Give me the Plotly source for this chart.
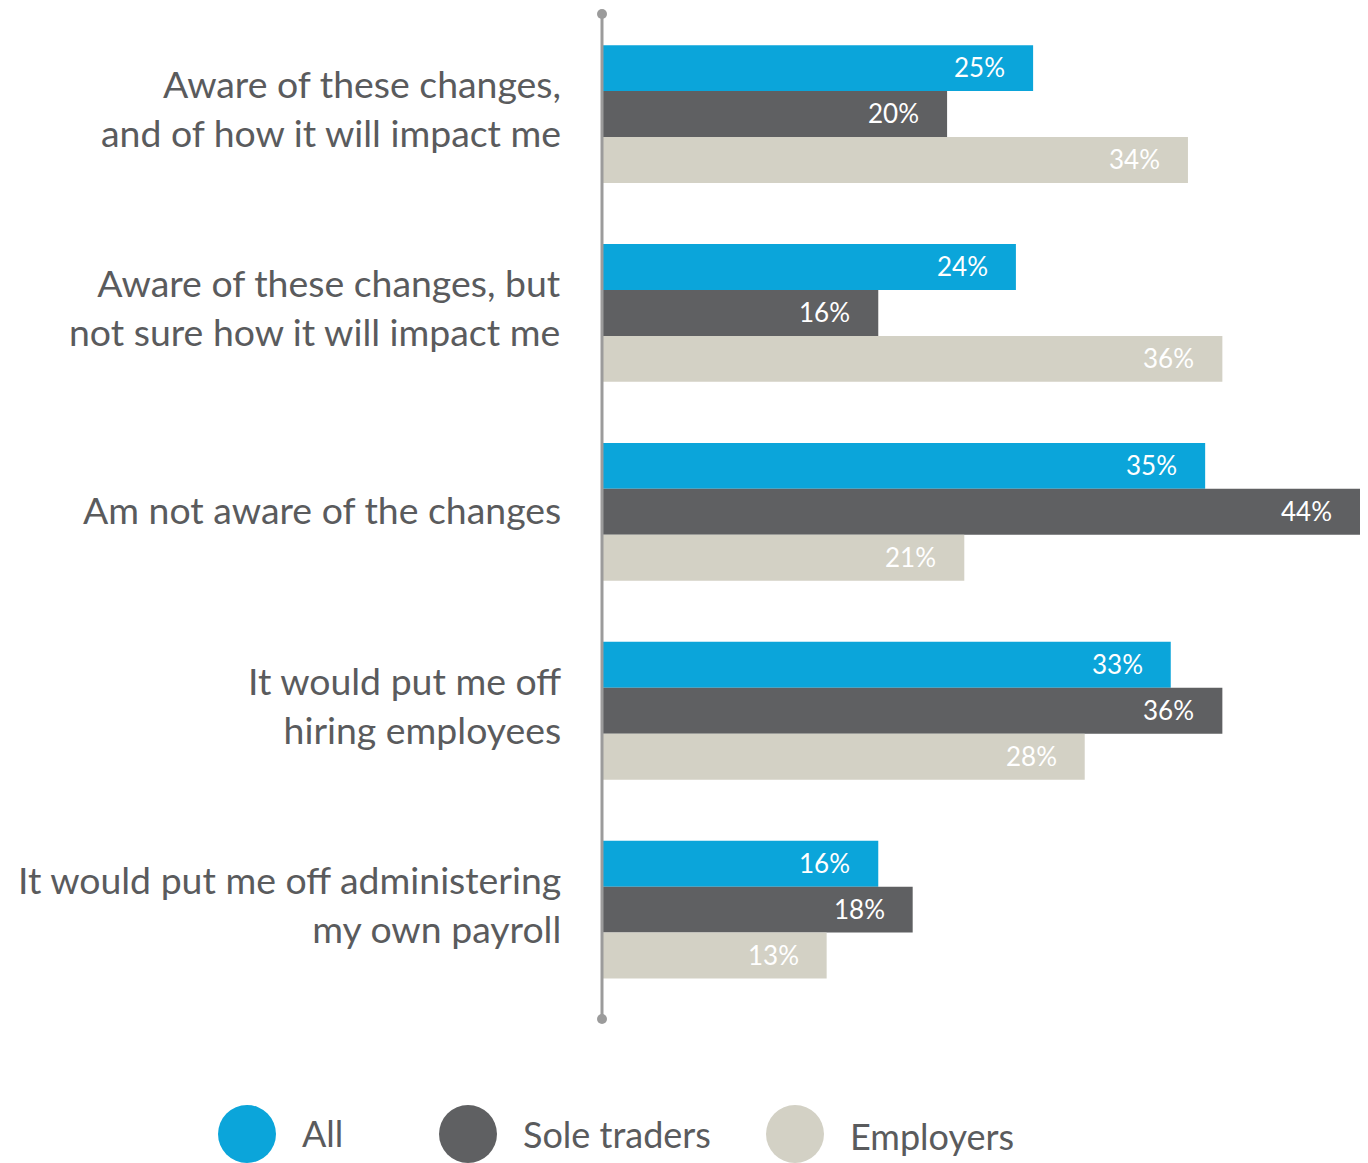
import plotly.graph_objects as go

# Survey responses on awareness of the changes, by respondent group
categories = [
    "Aware of these changes,<br>and of how it will impact me",
    "Aware of these changes, but<br>not sure how it will impact me",
    "Am not aware of the changes",
    "It would put me off<br>hiring employees",
    "It would put me off administering<br>my own payroll",
]
series_names = ["All", "Sole traders", "Employers"]
all_values = [25, 24, 35, 33, 16]
sole_trader_values = [20, 16, 44, 36, 18]
employer_values = [34, 36, 21, 28, 13]

colors = ["#0ba5da", "#5f6062", "#d3d1c5"]
series_values = [all_values, sole_trader_values, employer_values]
text_grey = "#5a5b5d"
axis_grey = "#9b9b9b"

W, H = 1368, 1163
L, R, T, B = 603, 8, 14, 144
plot_w = W - L - R
plot_h = H - T - B


def px_to_paper_x(px):
    return (px - L) / plot_w


def px_to_paper_y(py):
    return (H - B - py) / plot_h


fig = go.Figure()
for name, vals, col in zip(series_names, series_values, colors):
    fig.add_trace(go.Bar(
        y=categories, x=vals, name=name, orientation="h",
        marker=dict(color=col, line=dict(width=0)),
        hoverinfo="x+name",
    ))

annotations = []
# value labels inside bar ends
bar_px = 46
for i, vals in enumerate(series_values):
    shift = (1 - i) * bar_px
    for cat, v in zip(categories, vals):
        annotations.append(dict(
            x=v, y=cat, xref="x", yref="y", text=f"{v}%",
            showarrow=False, xanchor="right", yanchor="middle",
            xshift=-26, yshift=shift + 1,
            font=dict(family="Lato", size=26, color="white"),
        ))

# category labels to the left of the axis
for cat in categories:
    annotations.append(dict(
        x=0, y=cat, xref="paper", yref="y", text=cat,
        showarrow=False, xanchor="right", yanchor="middle", align="right",
        xshift=-40, yshift=6 if "<br>" in cat else 2,
        font=dict(family="Lato", size=37.4, color=text_grey),
    ))

# vertical axis line with round end caps
shapes = [
    dict(type="rect", xref="paper", yref="paper", xsizemode="pixel",
         xanchor=0, x0=-2.5, x1=0.5, y0=0, y1=1,
         fillcolor=axis_grey, line=dict(width=0), layer="above"),
]
for yp in (0, 1):
    shapes.append(dict(
        type="circle", xref="paper", yref="paper", xsizemode="pixel", ysizemode="pixel",
        xanchor=0, yanchor=yp, x0=-6, x1=4, y0=-5, y1=5,
        fillcolor=axis_grey, line=dict(width=0), layer="above",
    ))

# legend: coloured discs with labels
legend_disc_x = [247, 468, 795]
legend_text_x = [300, 521, 848]
legend_text_y = [1133, 1134, 1136]
legend_y = 1134
for name, col, cx, tx, ty in zip(series_names, colors, legend_disc_x, legend_text_x, legend_text_y):
    shapes.append(dict(
        type="circle", xref="paper", yref="paper", xsizemode="pixel", ysizemode="pixel",
        xanchor=px_to_paper_x(cx), yanchor=px_to_paper_y(legend_y),
        x0=-29, x1=29, y0=-29, y1=29,
        fillcolor=col, line=dict(width=0),
    ))
    annotations.append(dict(
        x=px_to_paper_x(tx), y=px_to_paper_y(ty), xref="paper", yref="paper",
        text=name, showarrow=False, xanchor="left", yanchor="middle",
        font=dict(family="Lato", size=36, color=text_grey),
    ))

fig.update_layout(
    width=W, height=H,
    margin=dict(l=L, r=R, t=T, b=B, pad=0),
    barmode="group", bargap=0.307, bargroupgap=0,
    plot_bgcolor="white", paper_bgcolor="white",
    showlegend=False,
    xaxis=dict(range=[0, 44], visible=False, fixedrange=True),
    yaxis=dict(range=[4.55, -0.503], showticklabels=False, showgrid=False,
               zeroline=False, showline=False, ticks="", fixedrange=True),
    shapes=shapes, annotations=annotations,
)

fig.write_html("out.html")
